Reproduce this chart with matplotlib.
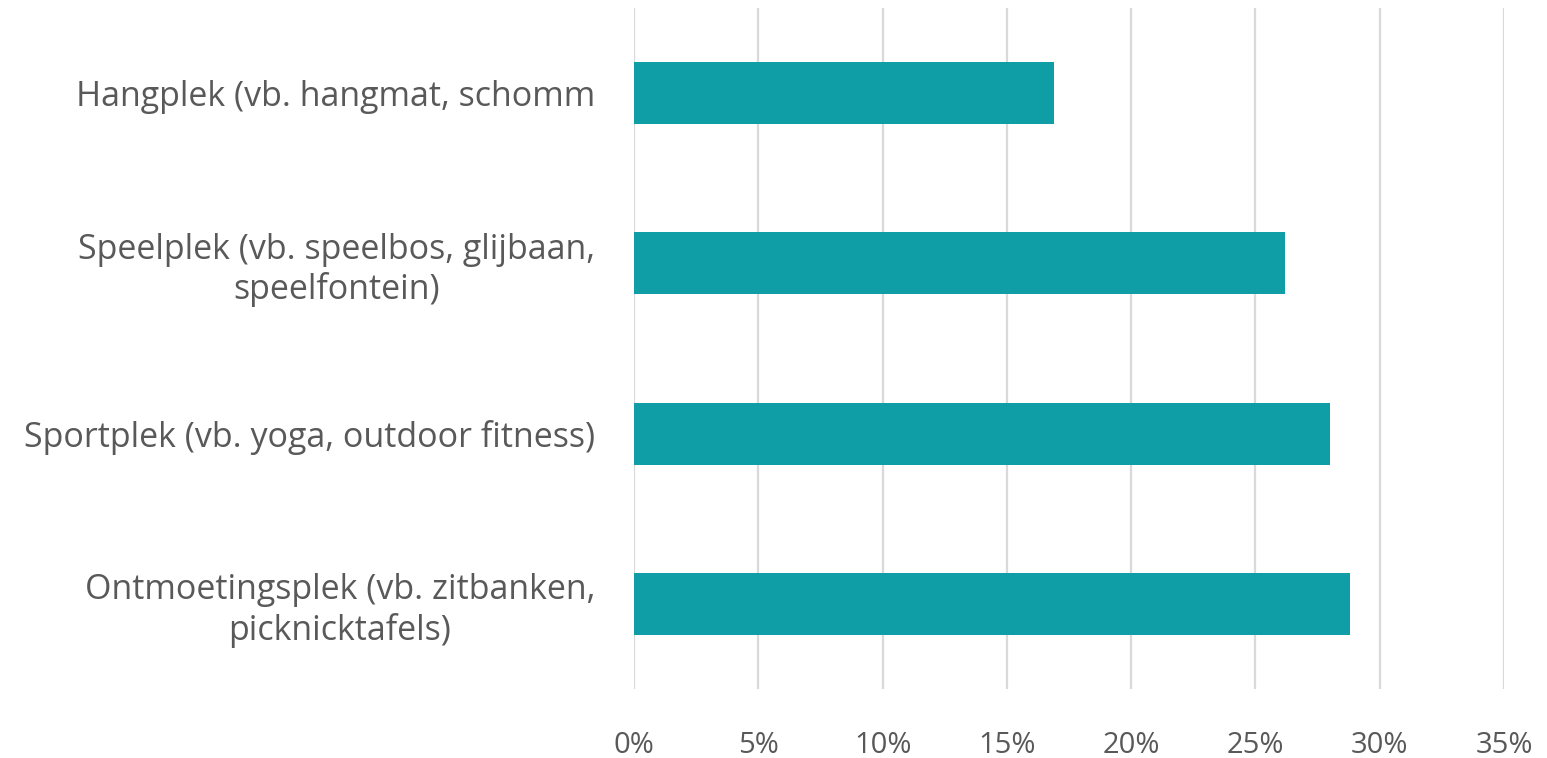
import matplotlib.pyplot as plt
from matplotlib.ticker import PercentFormatter

categories = [
    "Ontmoetingsplek (vb. zitbanken,\npicknicktafels)",
    "Sportplek (vb. yoga, outdoor fitness)",
    "Speelplek (vb. speelbos, glijbaan,\nspeelfontein)",
    "Hangplek (vb. hangmat, schomm",
]
values = [0.288, 0.280, 0.262, 0.169]
x_ticks = [0, 0.05, 0.10, 0.15, 0.20, 0.25, 0.30, 0.35]

plt.rcParams['font.family'] = ['Open Sans', 'DejaVu Sans']

fig = plt.figure(figsize=(15.47, 7.58), dpi=100)
ax = fig.add_axes([634 / 1547, 1 - 689 / 758, 870 / 1547, 681 / 758])

ax.barh(range(len(categories)), values, height=0.365, color="#0F9EA6", zorder=3)

ax.set_xlim(0, 0.35)
ax.set_ylim(-0.5, len(categories) - 0.5)
ax.set_xticks(x_ticks)
ax.xaxis.set_major_formatter(PercentFormatter(1.0, decimals=0))
ax.set_yticks(range(len(categories)))
ax.set_yticklabels(categories, ha="right", multialignment="center",
                   fontsize=24.5, linespacing=1.2)

ax.grid(axis="x", color="#D9D9D9", linewidth=1.6, zorder=0)
for s in ax.spines.values():
    s.set_visible(False)
ax.tick_params(axis="both", length=0, colors="#595959")
ax.tick_params(axis="x", pad=30, labelsize=21)
ax.tick_params(axis="y", pad=28)

fig.savefig("out.png", dpi=100)
